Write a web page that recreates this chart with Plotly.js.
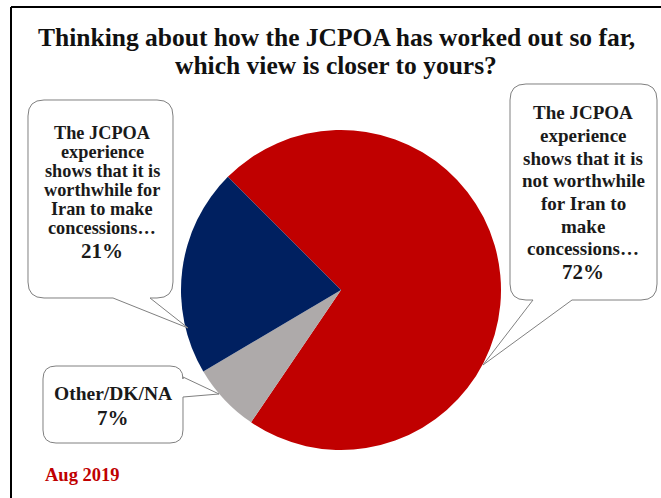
<!DOCTYPE html>
<html>
<head>
<meta charset="utf-8">
<script src="https://cdn.plot.ly/plotly-3.0.1.min.js"></script>
<style>html,body{margin:0;padding:0;background:#fff;}#chart{width:661px;height:498px;}</style>
</head>
<body>
<div id="chart"></div>
<script>
// ---- data ----
const categories = [
  "The JCPOA experience shows that it is not worthwhile for Iran to make concessions…",
  "Other/DK/NA",
  "The JCPOA experience shows that it is worthwhile for Iran to make concessions…"
];
const values = [72, 7, 21];
const sliceColors = ["#C00000", "#AEAAAA", "#002060"];
const labelLines = [
  ["The JCPOA", "experience", "shows that it is", "not worthwhile", "for Iran to", "make", "concessions…"],
  ["Other/DK/NA"],
  ["The JCPOA", "experience", "shows that it is", "worthwhile for", "Iran to make", "concessions…"]
];
const titleLines = ["Thinking about how the JCPOA has worked out so far,", "which view is closer to yours?"];
const dateText = "Aug 2019";

// ---- layout helpers ----
const W = 661, H = 498;
const X = x => x / W;
const Y = y => 1 - y / H;
const SERIF = "Times New Roman";

function callout(x0, y0, x1, y1, r, ptr) {
  const p = [];
  const pt = (x, y) => X(x).toFixed(5) + "," + Y(y).toFixed(5);
  p.push("M" + pt(x0 + r, y0));
  p.push("L" + pt(x1 - r, y0));
  p.push("Q" + pt(x1, y0) + " " + pt(x1, y0 + r));
  if (ptr && ptr.side === "right") {
    p.push("L" + pt(x1, ptr.a));
    p.push("L" + pt(ptr.tx, ptr.ty));
    p.push("L" + pt(x1, ptr.b));
  }
  p.push("L" + pt(x1, y1 - r));
  p.push("Q" + pt(x1, y1) + " " + pt(x1 - r, y1));
  if (ptr && ptr.side === "bottom") {
    p.push("L" + pt(ptr.b, y1));
    p.push("L" + pt(ptr.tx, ptr.ty));
    p.push("L" + pt(ptr.a, y1));
  }
  p.push("L" + pt(x0 + r, y1));
  p.push("Q" + pt(x0, y1) + " " + pt(x0, y1 - r));
  p.push("L" + pt(x0, y0 + r));
  p.push("Q" + pt(x0, y0) + " " + pt(x0 + r, y0));
  p.push("Z");
  return {
    type: "path", xref: "paper", yref: "paper", path: p.join(" "),
    line: {color: "#808080", width: 1}, fillcolor: "rgba(255,255,255,1)", layer: "above"
  };
}

const shapes = [
  // frame (top and left edges)
  {type: "line", xref: "paper", yref: "paper", x0: X(11), x1: X(661), y0: Y(7), y1: Y(7), line: {color: "#000", width: 2}},
  {type: "line", xref: "paper", yref: "paper", x0: X(11), x1: X(11), y0: Y(7), y1: Y(498), line: {color: "#000", width: 2}},
  callout(510, 84, 657, 300, 16, {side: "bottom", a: 533, b: 572, tx: 483, ty: 365}),
  callout(43, 366, 183, 443, 13, {side: "right", a: 377, b: 397, tx: 219, ty: 394}),
  callout(28, 100, 173, 298, 16, {side: "bottom", a: 113, b: 150, tx: 188, ty: 328})
];

// label placement (center x, first line y, line spacing, percent y, font sizes)
const labelPos = [
  {cx: 583, y0: 113, dy: 22.6, py: 272, fs: 19, ps: 21},
  {cx: 113, y0: 393, dy: 22, py: 418, fs: 19.5, ps: 21},
  {cx: 102, y0: 133, dy: 19.1, py: 251, fs: 18.3, ps: 21}
];

const annotations = [];
labelLines.forEach((lines, i) => {
  const lp = labelPos[i];
  lines.forEach((t, j) => {
    annotations.push({
      xref: "paper", yref: "paper", x: X(lp.cx), y: Y(lp.y0 + j * lp.dy),
      xanchor: "center", yanchor: "middle", showarrow: false,
      text: "<b>" + t + "</b>",
      font: {family: SERIF, size: lp.fs, color: "#1a1a1a"}
    });
  });
  annotations.push({
    xref: "paper", yref: "paper", x: X(lp.cx), y: Y(lp.py),
    xanchor: "center", yanchor: "middle", showarrow: false,
    text: "<b>" + values[i] + "%</b>",
    font: {family: SERIF, size: lp.ps, color: "#1a1a1a"}
  });
});
annotations.push({
  xref: "paper", yref: "paper", x: X(43), y: Y(475),
  xanchor: "left", yanchor: "middle", showarrow: false,
  text: "<b>" + dateText + "</b>",
  font: {family: SERIF, size: 18.5, color: "#C00000"}
});
titleLines.forEach((t, j) => {
  annotations.push({
    xref: "paper", yref: "paper", x: X(336), y: Y(37 + j * 28.5),
    xanchor: "center", yanchor: "middle", showarrow: false,
    text: "<b>" + t + "</b>",
    font: {family: SERIF, size: 25.5, color: "#111"}
  });
});

const cx = 341, cy = 290, R = 160;
const trace = {
  type: "pie",
  labels: categories,
  values: values,
  marker: {colors: sliceColors, line: {width: 0}},
  sort: false,
  direction: "clockwise",
  rotation: -45,
  textinfo: "none",
  hoverinfo: "label+percent",
  showlegend: false,
  domain: {x: [X(cx - R), X(cx + R)], y: [Y(cy + R), Y(cy - R)]}
};

const layout = {
  width: W, height: H,
  margin: {l: 0, r: 0, t: 0, b: 0},
  paper_bgcolor: "#fff",
  showlegend: false,
  font: {family: SERIF},
  shapes: shapes,
  annotations: annotations
};

Plotly.newPlot("chart", [trace], layout, {displayModeBar: false, staticPlot: true});
</script>
</body>
</html>
